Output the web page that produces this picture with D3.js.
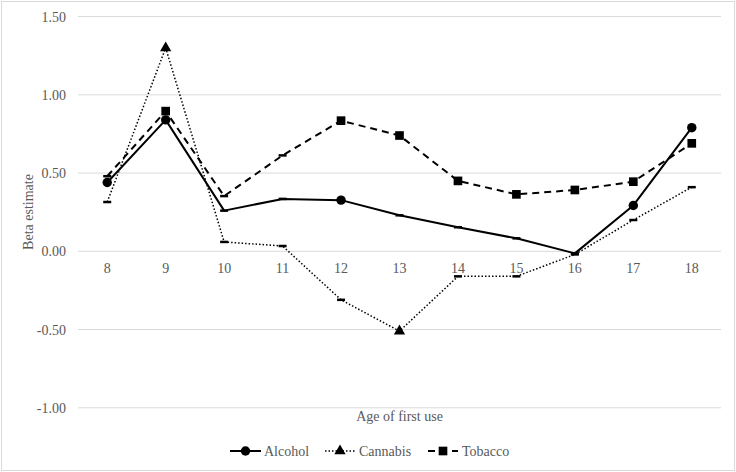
<!DOCTYPE html>
<html><head><meta charset="utf-8">
<script src="https://cdn.jsdelivr.net/npm/d3@7"></script>
<style>body{margin:0;background:#fff}svg{display:block}</style>
</head><body><svg id="c" width="736" height="472" font-family="Liberation Serif"></svg>
<script>
const ages = [8,9,10,11,12,13,14,15,16,17,18];
const alcohol  = [0.44,0.84,0.26,0.335,0.327,0.23,0.154,0.083,-0.013,0.293,0.79];
const cannabis = [0.315,1.30,0.06,0.034,-0.31,-0.51,-0.16,-0.16,-0.02,0.20,0.41];
const tobacco  = [0.48,0.896,0.353,0.613,0.835,0.74,0.45,0.364,0.392,0.445,0.69];
// 1 = full marker shown, 0 = small dash marker
const alcoholMark  = [1,1,0,0,1,0,0,0,0,1,1];
const cannabisMark = [0,1,0,0,0,1,0,0,0,0,0];
const tobaccoMark  = [0,1,0,0,1,1,1,1,1,1,1];
const yTicks = [1.5,1.0,0.5,0,-0.5,-1.0];

const FONT = "Liberation Serif";
const FS = 14;
const svg = d3.select("#c");
svg.append("rect").attr("x",1.5).attr("y",1.5).attr("width",733).attr("height",469)
  .attr("fill","#fff").attr("stroke","#d9d9d9").attr("stroke-width",1);

const x = d3.scaleBand().domain(ages).range([78,721]);
const y = d3.scaleLinear().domain([-1,1.5]).range([407.8,16.6]);
const cx = d => x(d) + x.bandwidth()/2;

// gridlines
svg.append("g").selectAll("line").data(yTicks).join("line")
  .attr("x1",78).attr("x2",721).attr("y1",d=>y(d)).attr("y2",d=>y(d))
  .attr("stroke","#d9d9d9").attr("stroke-width",1);

// y axis labels
const yAxis = d3.axisLeft(y).tickValues(yTicks).tickFormat(d=>d.toFixed(2)).tickSize(0).tickPadding(12);
const ga = svg.append("g").attr("transform","translate(78,0)").call(yAxis).attr("font-family",FONT);
ga.select(".domain").remove();
ga.selectAll("text").attr("font-size",FS).attr("fill","#595959").style("font-family",FONT);

// x axis labels
const xAxis = d3.axisBottom(x).tickSize(0).tickPadding(12);
const gx = svg.append("g").attr("transform",`translate(0,${y(0)})`).call(xAxis).attr("font-family",FONT);
gx.select(".domain").remove();
gx.selectAll("text").attr("font-size",FS).attr("fill","#595959").style("font-family",FONT);

svg.append("text").attr("transform","translate(33,212) rotate(-90)").attr("text-anchor","middle")
  .attr("font-size",FS).attr("fill","#595959").style("font-family",FONT).text("Beta estimate");
svg.append("text").attr("x",399.5).attr("y",420.5).attr("text-anchor","middle")
  .attr("font-size",FS).attr("fill","#595959").style("font-family",FONT).text("Age of first use");

const line = d3.line().x((d,i)=>cx(ages[i])).y(d=>y(d));
const series = [
  {name:"Alcohol", vals:alcohol, marks:alcoholMark, dash:null, w:2, shape:d3.symbolCircle, size:70},
  {name:"Cannabis", vals:cannabis, marks:cannabisMark, dash:"1.5,2", w:1.5, shape:d3.symbolTriangle, size:55},
  {name:"Tobacco", vals:tobacco, marks:tobaccoMark, dash:"7,5", w:2, shape:d3.symbolSquare, size:75}
];
series.forEach(s=>{
  svg.append("path").datum(s.vals).attr("d",line).attr("fill","none").attr("stroke","#000")
    .attr("stroke-width",s.w).attr("stroke-dasharray",s.dash).attr("stroke-linejoin","round");
  const g = svg.append("g");
  s.vals.forEach((v,i)=>{
    if(s.marks[i]){
      g.append("path").attr("d",d3.symbol(s.shape,s.size)()).attr("transform",`translate(${cx(ages[i])},${y(v)})`).attr("fill","#000");
    } else {
      g.append("rect").attr("x",cx(ages[i])-4).attr("y",y(v)-1.25).attr("width",8).attr("height",2.5).attr("fill","#000");
    }
  });
});

// legend
const leg = [
  {s:series[0], x1:230, x2:261, tx:264},
  {s:series[1], x1:325, x2:355, tx:359},
  {s:series[2], x1:428, x2:458, tx:462}
];
const ly = 451;
leg.forEach(l=>{
  svg.append("line").attr("x1",l.x1).attr("x2",l.x2).attr("y1",ly).attr("y2",ly).attr("stroke","#000")
    .attr("stroke-width",l.s.w).attr("stroke-dasharray",l.s.dash);
  svg.append("path").attr("d",d3.symbol(l.s.shape,l.s.size)()).attr("transform",`translate(${(l.x1+l.x2)/2},${ly})`).attr("fill","#000");
  svg.append("text").attr("x",l.tx).attr("y",ly+5).attr("font-size",FS).attr("fill","#595959").style("font-family",FONT).text(l.s.name);
});
</script></body></html>
